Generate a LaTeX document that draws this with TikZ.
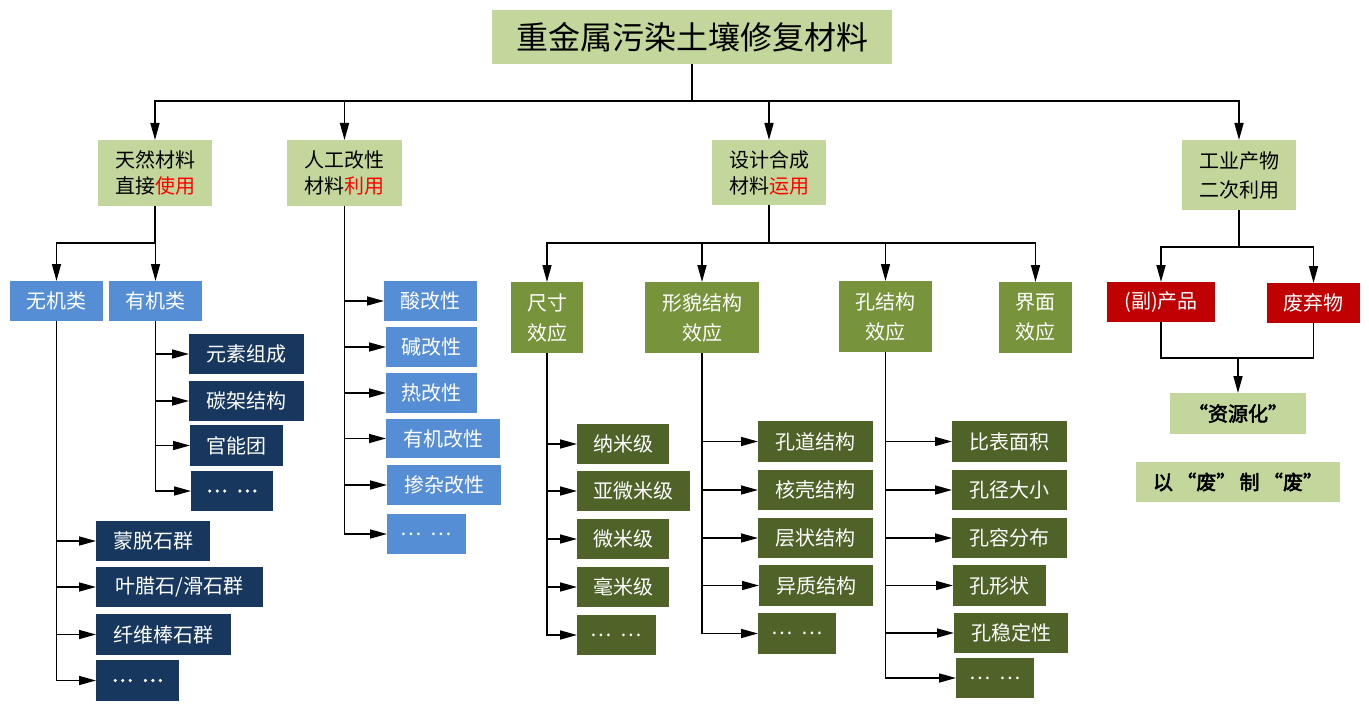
\documentclass[tikz,border=0pt]{standalone}
\usepackage{fontspec}
\setmainfont{Noto Sans CJK SC}[AutoFakeBold=2.5]
\usetikzlibrary{arrows.meta}
\definecolor{lgreen}{HTML}{C3D69B}
\definecolor{mblue}{HTML}{558ED5}
\definecolor{navy}{HTML}{17375E}
\definecolor{olive}{HTML}{77933C}
\definecolor{dkolive}{HTML}{4F6228}
\definecolor{dred}{HTML}{C00000}
\definecolor{bred}{HTML}{FF0000}
\newcommand\rd[1]{\textcolor{bred}{#1}}
\newcommand\dd{…\hspace{0.45em}…}
\newcommand\bx[7]{\node[#6, minimum width={#4pt-#2pt}, minimum height={#5pt-#3pt}] (#1) at ({(#2+#4)/2},{(#3+#5)/2}) {#7};}
\tikzset{
  base/.style={inner sep=0pt, outer sep=0pt, align=center, font=\fontsize{20}{25}\selectfont},
  lgbox/.style={base, fill=lgreen, text=black},
  lgtwo/.style={lgbox, font=\fontsize{20}{26}\selectfont},
  bluebox/.style={base, fill=mblue, text=white},
  navybox/.style={base, fill=navy, text=white},
  olivebox/.style={base, fill=olive, text=white, font=\fontsize{20}{30}\selectfont},
  dkbox/.style={base, fill=dkolive, text=white},
  redbox/.style={base, fill=dred, text=white},
  ln/.style={line width=1.6pt, draw=black},
  arr/.style={ln, -{Triangle[length=17pt,width=9pt]}},
}
\begin{document}
\begin{tikzpicture}[x=1pt,y=-1pt]
\useasboundingbox (0,0) rectangle (1369,706);
% title
\bx{title}{492}{10}{892}{64}{lgbox, font=\fontsize{32}{36}\selectfont}{重金属污染土壤修复材料}
% level 1
\bx{a}{98}{140}{212}{206}{lgtwo}{天然材料\\直接\rd{使用}}
\bx{b}{287}{140}{402}{206}{lgtwo}{人工改性\\材料\rd{利用}}
\bx{c}{712}{140}{826}{205}{lgtwo}{设计合成\\材料\rd{运用}}
\bx{d}{1182}{140}{1296}{210}{lgbox, font=\fontsize{20}{29}\selectfont}{工业产物\\二次利用}
% natural
\bx{a1}{10}{281}{103}{321}{bluebox}{无机类}
\bx{a2}{109}{281}{202}{321}{bluebox}{有机类}
\bx{o1}{189}{334}{304}{374}{navybox}{元素组成}
\bx{o2}{189}{381}{304}{421}{navybox}{碳架结构}
\bx{o3}{190}{425}{283}{466}{navybox}{官能团}
\bx{o4}{191}{471}{273}{511}{navybox}{\bfseries\dd}
\bx{i1}{96}{521}{210}{561}{navybox}{蒙脱石群}
\bx{i2}{96}{567}{263}{607}{navybox}{叶腊石/滑石群}
\bx{i3}{96}{614}{231}{655}{navybox}{纤维棒石群}
\bx{i4}{96}{660}{179}{701}{navybox}{\bfseries\dd}
% modified
\bx{b1}{384}{281}{477}{321}{bluebox}{酸改性}
\bx{b2}{386}{327}{477}{367}{bluebox}{碱改性}
\bx{b3}{386}{373}{477}{413}{bluebox}{热改性}
\bx{b4}{386}{419}{500}{458}{bluebox}{有机改性}
\bx{b5}{387}{465}{501}{505}{bluebox}{掺杂改性}
\bx{b6}{387}{514}{466}{554}{bluebox}{\dd}
% designed
\bx{c1}{511}{282}{583}{353}{olivebox}{尺寸\\效应}
\bx{c2}{645}{282}{759}{353}{olivebox}{形貌结构\\效应}
\bx{c3}{839}{281}{932}{352}{olivebox}{孔结构\\效应}
\bx{c4}{999}{282}{1072}{353}{olivebox}{界面\\效应}
\bx{s1}{577}{424}{669}{464}{dkbox}{纳米级}
\bx{s2}{577}{471}{690}{511}{dkbox}{亚微米级}
\bx{s3}{577}{519}{669}{559}{dkbox}{微米级}
\bx{s4}{577}{567}{669}{607}{dkbox}{毫米级}
\bx{s5}{577}{615}{656}{655}{dkbox}{\dd}
\bx{m1}{758}{421}{873}{462}{dkbox}{孔道结构}
\bx{m2}{758}{470}{873}{510}{dkbox}{核壳结构}
\bx{m3}{758}{518}{873}{558}{dkbox}{层状结构}
\bx{m4}{759}{565}{873}{606}{dkbox}{异质结构}
\bx{m5}{758}{613}{836}{654}{dkbox}{\dd}
\bx{p1}{952}{421}{1067}{462}{dkbox}{比表面积}
\bx{p2}{952}{470}{1067}{510}{dkbox}{孔径大小}
\bx{p3}{952}{518}{1067}{558}{dkbox}{孔容分布}
\bx{p4}{953}{565}{1046}{606}{dkbox}{孔形状}
\bx{p5}{954}{613}{1068}{653}{dkbox}{孔稳定性}
\bx{p6}{956}{658}{1034}{698}{dkbox}{\dd}
% industrial
\bx{d1}{1107}{282}{1215}{322}{redbox}{(副)产品}
\bx{d2}{1267}{283}{1360}{323}{redbox}{废弃物}
\bx{e}{1170}{393}{1306}{434}{lgbox}{\bfseries “资源化”}
\bx{f}{1136}{462}{1340}{502}{lgbox}{\bfseries 以\,“废”\,制\,“废”}
% connectors
\coordinate (h0) at (0,101);
\coordinate (h1) at (0,243);
\coordinate (h3) at (0,247);
\coordinate (h4) at (0,358);
\draw[ln] (title.south) -- (title.south|-h0);
\foreach \n in {a,b,c,d} \draw[arr] (title.south|-h0) -| (\n.north);
\draw[ln] (a.south) -- (a.south|-h1);
\foreach \n in {a1,a2} \draw[arr] (a.south|-h1) -| (\n.north);
\foreach \n in {o1,o2,o3,o4} \draw[arr] (a2.south) |- (\n.west);
\foreach \n in {i1,i2,i3,i4} \draw[arr] (a1.south) |- (\n.west);
\foreach \n in {b1,b2,b3,b4,b5,b6} \draw[arr] (b.south) |- (\n.west);
\draw[ln] (c.south) -- (c.south|-h1);
\foreach \n in {c1,c2,c3,c4} \draw[arr] (c.south|-h1) -| (\n.north);
\foreach \n in {s1,s2,s3,s4,s5} \draw[arr] (c1.south) |- (\n.west);
\foreach \n in {m1,m2,m3,m4,m5} \draw[arr] (c2.south) |- (\n.west);
\foreach \n in {p1,p2,p3,p4,p5,p6} \draw[arr] (c3.south) |- (\n.west);
\draw[ln] (d.south) -- (d.south|-h3);
\foreach \n in {d1,d2} \draw[arr] (d.south|-h3) -| (\n.north);
\draw[ln] (d1.south) -- (d1.south|-h4) -- (d2.south|-h4) -- (d2.south);
\draw[arr] (e.north|-h4) -- (e.north);
\end{tikzpicture}
\end{document}
